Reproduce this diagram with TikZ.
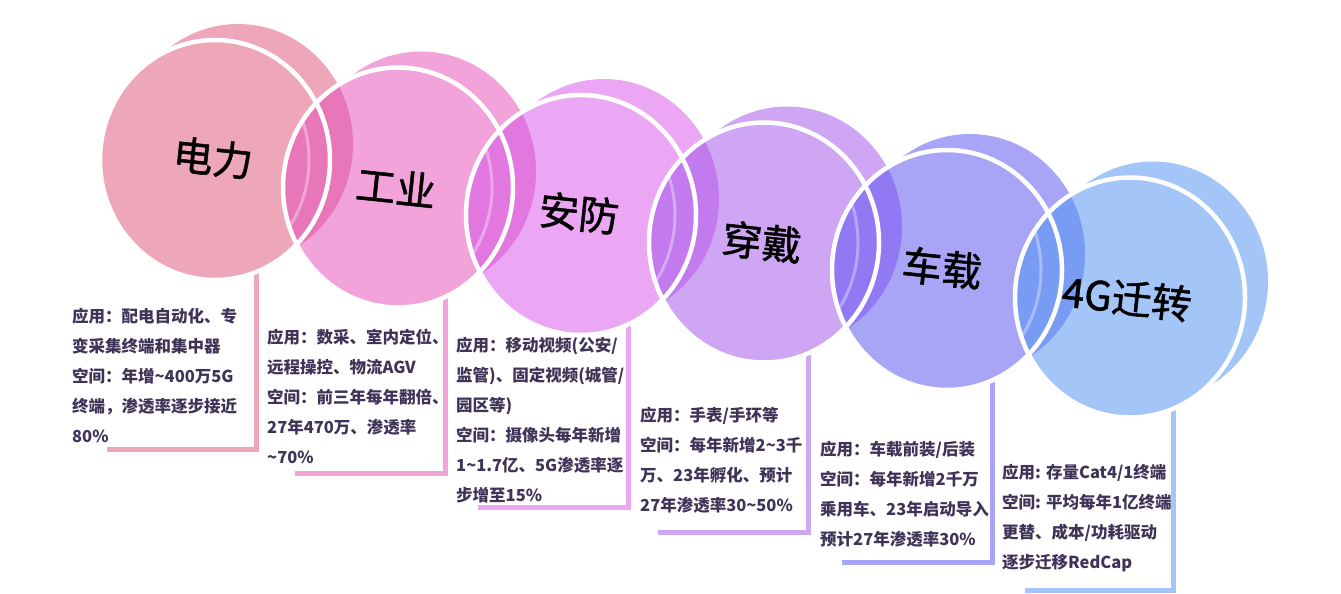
\documentclass[tikz,border=0pt]{standalone}
\usepackage{fontspec}
\newfontfamily\cjk{Noto Sans CJK SC}
\newfontfamily\cjkhead{Noto Sans CJK SC}[FakeBold=1.2]
\definecolor{col1}{HTML}{EEA7B8}
\definecolor{col2}{HTML}{F2A3DA}
\definecolor{col3}{HTML}{ECA7F4}
\definecolor{col4}{HTML}{CEA6F4}
\definecolor{col5}{HTML}{A9A5F6}
\definecolor{col6}{HTML}{A3C5F8}
\definecolor{lens1}{HTML}{E877B9}
\definecolor{lens2}{HTML}{E277E0}
\definecolor{lens3}{HTML}{C27AEE}
\definecolor{lens4}{HTML}{9079F2}
\definecolor{lens5}{HTML}{789BF3}
\definecolor{txt}{HTML}{3F3357}

\begin{document}
\begin{tikzpicture}[x=1pt,y=-1pt]
    \tikzstyle{title}=[font=\cjkhead\fontsize{40}{40}\selectfont,rotate=-6,text=black]
    \tikzstyle{info}=[font=\cjk\bfseries\fontsize{16.5}{30}\selectfont,text=txt,anchor=north west,align=left,inner sep=0pt]
    \tikzstyle{stem}=[line width=5pt]
    \useasboundingbox (0,0) rectangle (1341,594);
    % stems under the circles
    \foreach \i/\cx/\cy/\vx/\hy/\hx in {1/215/160/256/449/107, 2/398/187.5/445/473/295, 3/581/215/628/507/478,
        4/764/242.5/808/532/658, 5/947/270/992/562/842, 6/1130/297.5/1173/590/1025} {
        \coordinate (top\i) at (\vx,\cy);
        \coordinate (end\i) at (\hx,\hy);
        \draw[stem,col\i] (top\i) |- (end\i);
    }
    % back and front discs
    \foreach \i/\cx/\cy in {1/215/160, 2/398/187.5, 3/581/215, 4/764/242.5, 5/947/270, 6/1130/297.5} {
        \fill[col\i] (\cx+23,\cy-16) ellipse [x radius=115, y radius=120];
        \fill[col\i] (\cx,\cy) ellipse [x radius=115, y radius=120];
    }
    % overlaps
    \foreach \i/\ax/\ay/\bx/\by in {1/215/160/398/187.5, 2/398/187.5/581/215, 3/581/215/764/242.5,
        4/764/242.5/947/270, 5/947/270/1130/297.5} {
        \begin{scope}
            \clip (\ax+23,\ay-16) ellipse [x radius=115, y radius=120];
            \clip (\bx,\by) ellipse [x radius=115, y radius=120];
            \fill[lens\i] (\bx,\by) ellipse [x radius=115, y radius=120];
            \draw[white,opacity=.35,line width=3pt] (\ax-21,\ay) ellipse [x radius=115, y radius=120];
        \end{scope}
    }
    % white rims
    \foreach \cx/\cy in {215/160, 398/187.5, 581/215, 764/242.5, 947/270, 1130/297.5}
        \draw[white,line width=4.5pt] (\cx,\cy) ellipse [x radius=115, y radius=120];

    \node[title] (t1) at (213,158)   {电力};
    \node[title] (t2) at (396,187)   {工业};
    \node[title] (t3) at (579,213)   {安防};
    \node[title] (t4) at (762,242)   {穿戴};
    \node[title] (t5) at (942,268)   {车载};
    \node[title] (t6) at (1127,298)  {4G迁转};

    \node[info] (a1) at (72,308)   {应用：配电自动化、专\\变采集终端和集中器\\空间：年增\textasciitilde400万5G\\终端，渗透率逐步接近\\80\%};
    \node[info] (a2) at (267,329)  {应用：数采、室内定位、\\远程操控、物流AGV\\空间：前三年每年翻倍、\\27年470万、渗透率\\\textasciitilde70\%};
    \node[info] (a3) at (456,337)  {应用：移动视频(公安/\\监管)、固定视频(城管/\\园区等)\\空间：摄像头每年新增\\1\textasciitilde1.7亿、5G渗透率逐\\步增至15\%};
    \node[info] (a4) at (640,407)  {应用：手表/手环等\\空间：每年新增2\textasciitilde3千\\万、23年孵化、预计\\27年渗透率30\textasciitilde50\%};
    \node[info] (a5) at (820,441)  {应用：车载前装/后装\\空间：每年新增2千万\\乘用车、23年启动导入\\预计27年渗透率30\%};
    \node[info] (a6) at (1002,464) {应用: 存量Cat4/1终端\\空间: 平均每年1亿终端\\更替、成本/功耗驱动\\逐步迁移RedCap};
\end{tikzpicture}
\end{document}
